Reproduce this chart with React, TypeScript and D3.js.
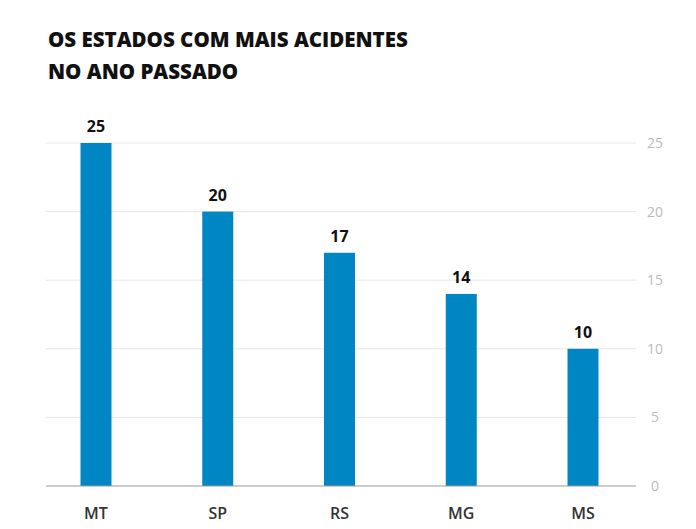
import React from "react";
import * as d3 from "d3";

const categories = ["MT", "SP", "RS", "MG", "MS"];
const values = [25, 20, 17, 14, 10];
const yTicks = [0, 5, 10, 15, 20, 25];
const titleLines = ["OS ESTADOS COM MAIS ACIDENTES", "NO ANO PASSADO"];

export default function App() {
  const W = 696, H = 529;
  const x = d3.scalePoint<string>().domain(categories).range([96, 583]);
  const y = d3.scaleLinear().domain([0, 25]).range([486, 143]);
  const barW = 31;
  const font = "'Open Sans', sans-serif";
  return (
    <svg width={W} height={H} style={{ position: "absolute", left: 0, top: 0 }} fontFamily={font}>
      <rect width={W} height={H} fill="#fff" />
      {titleLines.map((t, i) => (
        <text key={t} x={48} y={47 + i * 32} fontSize={20.5} fontWeight={800} fill="#111">{t}</text>
      ))}
      {yTicks.map(t => (
        <g key={t}>
          {t > 0 && <line x1={46} x2={636} y1={y(t)} y2={y(t)} stroke="#e6e6e6" strokeWidth={1} />}
          <text x={655} y={y(t) + 5} fontSize={14} fill="#bbb" textAnchor="middle">{t}</text>
        </g>
      ))}
      {categories.map((c, i) => (
        <g key={c}>
          <rect x={x(c)! - barW / 2} y={y(values[i])} width={barW} height={y(0) - y(values[i])} fill="#0086c3" />
          <text x={x(c)!} y={y(values[i]) - 11} fontSize={16} fontWeight={700} fill="#111" textAnchor="middle">{values[i]}</text>
          <text x={x(c)!} y={519} fontSize={16} fontWeight={600} fill="#333" textAnchor="middle">{c}</text>
        </g>
      ))}
      <line x1={46} x2={636} y1={y(0)} y2={y(0)} stroke="#999" strokeWidth={1} />
    </svg>
  );
}
